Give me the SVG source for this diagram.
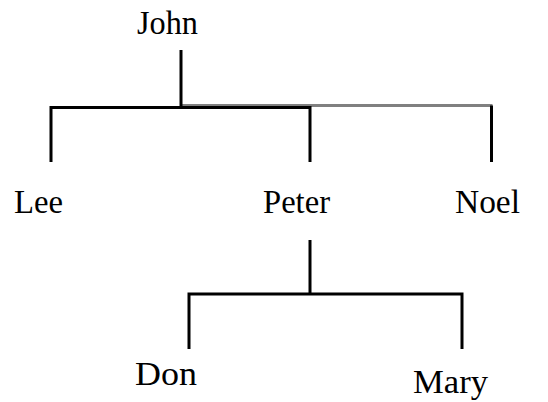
<svg xmlns="http://www.w3.org/2000/svg" width="548" height="402" viewBox="0 0 548 402">
<style>
  .c { fill: none; stroke: #000; stroke-width: 3; }
  .g { fill: none; stroke: #808080; stroke-width: 3; }
</style>
<rect width="548" height="402" fill="#fff"/>
<g id="connectors">
  <path class="g" d="M181 105.5 H492.5"/>
  <path class="c" d="M181 50 V107.5"/>
  <path class="c" d="M51 162 V107.5 H310 V162"/>
  <path class="c" d="M491.5 105.5 V162"/>
  <path class="c" d="M310 240 V294"/>
  <path class="c" d="M189 349 V294 H462 V349"/>
</g>
<g font-family="'Times New Roman', 'Liberation Serif', Times, serif" font-size="34" fill="#000">
<g id="john"><text x="137" y="34" textLength="61" lengthAdjust="spacingAndGlyphs">John</text></g>
<g id="lee"><text x="14" y="213" textLength="49" lengthAdjust="spacingAndGlyphs">Lee</text></g>
<g id="peter"><text x="263" y="213" textLength="67" lengthAdjust="spacingAndGlyphs">Peter</text></g>
<g id="noel"><text x="455" y="213" textLength="65" lengthAdjust="spacingAndGlyphs">Noel</text></g>
<g id="don"><text x="135" y="385" textLength="62" lengthAdjust="spacingAndGlyphs">Don</text></g>
<g id="mary"><text x="413" y="393" textLength="75" lengthAdjust="spacingAndGlyphs">Mary</text></g>
</g>
</svg>
